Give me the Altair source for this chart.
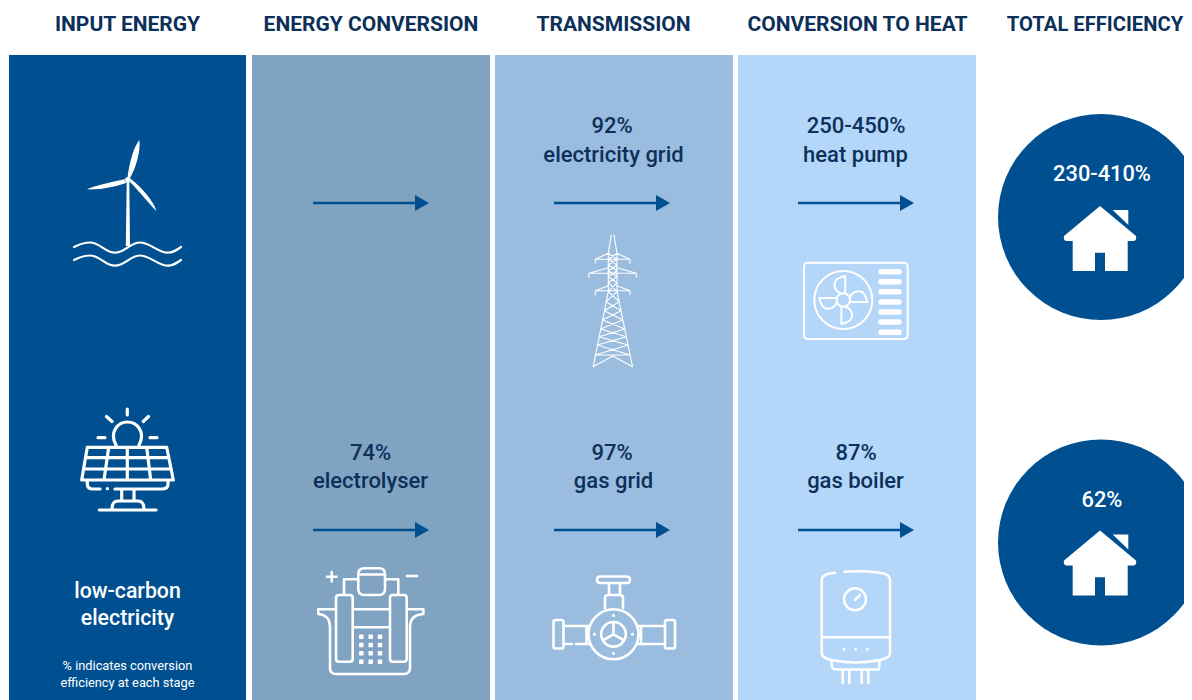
import re
import altair as alt
import pandas as pd

# ---------- chart content ----------
headers = ["INPUT ENERGY", "ENERGY CONVERSION", "TRANSMISSION", "CONVERSION TO HEAT", "TOTAL EFFICIENCY"]
top_labels = ["92%", "electricity grid", "250-450%", "heat pump"]
bottom_labels = ["74%", "electrolyser", "97%", "gas grid", "87%", "gas boiler"]
input_labels = ["low-carbon", "electricity"]
note_labels = ["% indicates conversion", "efficiency at each stage"]
total_labels = ["230-410%", "62%"]

# ---------- layout, in reference pixels ----------
header_x = [127.5, 371, 613.5, 857.5, 1095]
col_x0 = [9, 252, 495, 738]
col_x1 = [246, 490, 733, 976]
col_colors = ["#005091", "#80a3c2", "#9abcdf", "#b3d6f9"]
NAVY = "#005091"
INK = "#0c3059"
ROW_TOP, ROW_BOTTOM = 55, 700

X = alt.Scale(domain=[8, 1184], nice=False, zero=False)
Y = alt.Scale(domain=[700, 8], nice=False, zero=False)
xq = lambda f: alt.X(f, type="quantitative", scale=X, axis=None)
yq = lambda f: alt.Y(f, type="quantitative", scale=Y, axis=None)


def text_layer(labels, xs, ys, size, color, weight=500):
    df = pd.DataFrame({"label": labels, "x": xs, "y": ys})
    return alt.Chart(df).mark_text(
        font="Roboto", fontSize=size, fontWeight=weight, color=color,
        align="center", baseline="alphabetic",
    ).encode(x=xq("x"), y=yq("y"), text="label:N")


# ---------- icon geometry helpers (absolute reference px, shifted to the anchor) ----------
def shift(path, cx, cy):
    toks = re.findall(r"[MLCQZ]|-?\d+\.?\d*", path)
    out, is_x = [], True
    for t in toks:
        if t in "MLCQZ":
            out.append(t)
            is_x = True
        else:
            v = float(t) - (cx if is_x else cy)
            out.append(f"{v:.2f}")
            is_x = not is_x
    return " ".join(out)


def circ(cx, cy, r):
    k = 0.5523 * r
    return (f"M {cx+r} {cy} C {cx+r} {cy+k} {cx+k} {cy+r} {cx} {cy+r} "
            f"C {cx-k} {cy+r} {cx-r} {cy+k} {cx-r} {cy} "
            f"C {cx-r} {cy-k} {cx-k} {cy-r} {cx} {cy-r} "
            f"C {cx+k} {cy-r} {cx+r} {cy-k} {cx+r} {cy} Z ")


def rrect(x0, y0, x1, y1, r):
    return (f"M {x0+r} {y0} L {x1-r} {y0} Q {x1} {y0} {x1} {y0+r} L {x1} {y1-r} "
            f"Q {x1} {y1} {x1-r} {y1} L {x0+r} {y1} Q {x0} {y1} {x0} {y1-r} "
            f"L {x0} {y0+r} Q {x0} {y0} {x0+r} {y0} Z ")


def seg(*pts):
    return "M " + " L ".join(f"{a} {b}" for a, b in pts) + " "


# turbine
turbine_fill = (
    "M 127.5 178 C 129 165 133 148 139.3 140 C 141 150 136 168 130 178 Z "
    "M 125 179 C 112 182 97 185 86.7 189.3 C 100 190 115 187 126 183 Z "
    "M 130 182 C 140 192 150 205 156.5 211 C 153 200 142 188 131 179 Z "
    + circ(127.8, 180, 3)
    + "M 126.7 182 L 129.3 182 L 130 246 L 125.8 246 Z "
)
wave = "M 74 {a} C 80 {b} 85 {c} 90 {c} C 100 {c} 105 {d} 115 {d} C 125 {d} 130 {c} 140 {c} C 150 {c} 158 {d} 168 {d} C 173 {d} 177 {e} 181 {a} "
turbine_line = (wave.format(a=247, b=244, c=242.5, d=252.7, e=250)
                + wave.format(a=260, b=257, c=255.5, d=265.7, e=263))

# solar panel
solar_line = (
    seg((127.3, 409), (127.3, 415)) + seg((106.5, 416.5), (112, 421.5)) + seg((148.5, 416.5), (143.3, 421.5))
    + seg((98, 437.7), (105, 437.7)) + seg((150, 437.7), (157, 437.7))
    + "M 116 445 C 109 432 118 422 127.3 422 C 137 422 146 432 139 445 "
    + seg((87.3, 447.3), (166.7, 447.3), (173.3, 480), (81.7, 480), (87.3, 447.3))
    + seg((85.5, 457.7), (169, 457.7)) + seg((83.5, 469), (171, 469))
    + seg((108.7, 447.3), (104, 480)) + seg((127.3, 447.3), (127.3, 480)) + seg((146.7, 447.3), (150.7, 480))
    + "M 87.3 480 L 87.3 484 Q 87.3 489 93 489 L 100 489 "
    + "M 115 489 L 162 489 Q 168 489 168 484 L 168 480 "
    + seg((121.7, 489), (121.7, 501)) + seg((134, 489), (134, 501))
    + "M 112 509 Q 112 501 118 501 L 138 501 Q 144 501 144 509 "
    + seg((99.3, 510), (156, 510))
    + seg((107.3, 488.7), (107.4, 488.7))
)

# electrolyser
electro_line = (
    seg((331.7, 572), (331.7, 581.5)) + seg((327, 576.7), (336.5, 576.7)) + seg((407, 576), (417, 576))
    + rrect(358.3, 568.3, 385, 595, 6) + seg((358.3, 574.5), (385, 574.5))
    + seg((358.3, 579.3), (344, 579.3), (344, 594)) + seg((385, 579.3), (398.3, 579.3), (398.3, 594))
    + rrect(336, 595, 352.7, 661.7, 3) + rrect(390, 595, 406.7, 661.7, 3)
    + "M 336 609.3 L 318.3 609.3 L 318.3 614 Q 330 615 330 627 L 330 668 Q 330 674 336 674 "
      "L 404 674 Q 410 674 410 668 L 410 627 Q 410 615 423.3 614 L 423.3 609.3 L 406.7 609.3 "
    + seg((352.7, 609.3), (390, 609.3)) + seg((352.7, 627.3), (390, 627.3))
)
electro_fill = "".join(
    f"M {x-2.2} {y-2.2} L {x+2.2} {y-2.2} L {x+2.2} {y+2.2} L {x-2.2} {y+2.2} Z "
    for x in (361.3, 370.7, 380) for y in (636.7, 645, 653.3, 661.7)
)

# valve
valve_line = (
    rrect(597, 576.5, 630, 583, 3.2) + seg((609, 583), (609, 595)) + seg((620, 583), (620, 595))
    + "M 605 608 L 605 598 Q 605 595 608 595 L 620 595 Q 623 595 623 598 L 623 608 "
    + circ(613.5, 634.3, 25) + circ(613.5, 634.3, 12.3)
    + seg((613.5, 634.3), (613.5, 623)) + seg((613.5, 634.3), (603.5, 640)) + seg((613.5, 634.3), (623.5, 640))
    + rrect(553.5, 620, 563.5, 648.5, 2) + rrect(665, 620, 675, 648.5, 2)
    + seg((563.5, 626), (590, 626)) + seg((563.5, 644), (572, 644)) + seg((576, 644), (590, 644))
    + seg((586.5, 626), (586.5, 644))
    + seg((638, 626), (665, 626)) + seg((638, 644), (665, 644)) + seg((641, 626), (641, 644))
)
valve_fill = circ(613.5, 615.5, 1.5) + circ(613.5, 653.5, 1.5) + circ(594.5, 634.3, 1.5) + circ(632.5, 634.3, 1.5)


# pylon
def py(zx, zy):
    return (round(560 + zx / 3, 1), round(220 + zy / 3, 1))


def leg(zy):
    if zy <= 215:
        return 171
    return 171.5 + 46 * (zy - 215) / 225


pylon_path = ""
for s in (-1, 1):
    pylon_path += seg(py(158 + s * 4, 45), py(158 + s * 13, 100), py(158 + s * 13, 215), py(158.5 + s * 59, 440))
    for top, reach, low in ((100, 52, 118), (143, 71, 160), (197, 52, 212)):
        pylon_path += seg(py(158 + s * 13, top), py(158 + s * reach, low), py(158 + s * reach, low + 12))
        pylon_path += seg(py(158, low), py(158 + s * reach, low))
levels = [100, 118, 135, 152, 170, 188, 215, 245, 272, 300, 327, 350, 375, 405]
for a, b in zip(levels[:-1], levels[1:]):
    pylon_path += seg(py(316 - leg(a), a), py(leg(b), b))
    pylon_path += seg(py(leg(a), a), py(316 - leg(b), b))
pylon_path += seg(py(316 - leg(405), 405), py(leg(405), 405))
pylon_path += seg(py(100, 440), py(158, 408), py(218, 440))


# heat pump
def rot(pts, cx, cy, k):
    res = []
    for x, y in pts:
        dx, dy = x - cx, y - cy
        for _ in range(k):
            dx, dy = -dy, dx
        res.append((round(cx + dx, 2), round(cy + dy, 2)))
    return res


blade = [(845.2, 276), (845.2, 293.3), (838, 295), (833, 288), (835, 282), (836, 279), (841, 277), (845.2, 276)]
pump_line = rrect(804, 262.7, 907.7, 339, 4) + circ(843.3, 300, 29) + circ(843.3, 300, 6.7)
for k in range(4):
    p = rot(blade, 843.3, 300, k)
    pump_line += (f"M {p[0][0]} {p[0][1]} L {p[1][0]} {p[1][1]} "
                  f"C {p[2][0]} {p[2][1]} {p[3][0]} {p[3][1]} {p[4][0]} {p[4][1]} "
                  f"C {p[5][0]} {p[5][1]} {p[6][0]} {p[6][1]} {p[7][0]} {p[7][1]} ")
pump_fill = "".join(rrect(878.3, y - 2.7, 901.7, y + 2.7, 2.6)
                    for y in (271.7, 281.7, 291.7, 302, 312, 322, 332.3))

# boiler
boiler_line = (
    "M 835 572.7 Q 821.7 574 821.7 580 L 821.7 653.3 Q 821.7 658.3 831.7 660 Q 855 665 880 660 "
    "Q 890 658.3 890 653.3 L 890 580 Q 890 574 880 572.7 Q 862 570.7 844.3 571.7 "
    + seg((821.7, 637.3), (890, 637.3))
    + circ(855, 599.3, 11) + seg((855, 600), (860, 595))
    + "M 831.7 662 L 831.7 666 Q 832 669.5 838 669.5 L 879 669.5 "
    + seg((879.3, 662), (879.3, 667))
    + seg((842.7, 670), (842.7, 683)) + seg((849.3, 670), (849.3, 683))
    + seg((861.7, 670), (861.7, 683)) + seg((868.3, 670), (868.3, 683))
)
boiler_fill = circ(844, 649.3, 1.4) + circ(855.7, 649.3, 1.4) + circ(867.3, 649.3, 1.4)

# house
house_fill = (
    "M 1100 206 L 1136 236 Q 1137 240 1134 241 L 1127.7 241 L 1127.7 271 L 1105 271 L 1105 252.7 "
    "L 1095 252.7 L 1095 271 L 1072.7 271 L 1072.7 241 L 1066 241 Q 1063 240 1064 236 Z "
    "M 1112.7 210 L 1128.3 210 L 1128.3 225 Z"
)

icons = [
    ("turbine_f", 127, 200, turbine_fill, True, 0),
    ("turbine_l", 127, 200, turbine_line, False, 2.2),
    ("solar", 127, 460, solar_line, False, 3.2),
    ("electro_l", 370, 620, electro_line, False, 2.6),
    ("electro_f", 370, 620, electro_fill, True, 0),
    ("valve_l", 614, 630, valve_line, False, 2.6),
    ("valve_f", 614, 630, valve_fill, True, 0),
    ("pylon", 613, 300, pylon_path, False, 1.1),
    ("pump_l", 856, 300, pump_line, False, 2),
    ("pump_f", 856, 300, pump_fill, True, 0),
    ("boiler_l", 856, 625, boiler_line, False, 2.5),
    ("boiler_f", 856, 625, boiler_fill, True, 0),
    ("house", 1100, 240, house_fill, True, 0),
]


def icon_layer(name, ax, ay, path, filled, sw, dy=0):
    d = pd.DataFrame({"icon": [name], "x": [ax], "y": [ay + dy]})
    kw = dict(shape=shift(path, ax, ay), size=4, opacity=1, filled=filled)
    if filled:
        kw.update(fill="white", strokeWidth=0)
    else:
        kw.update(stroke="white", strokeWidth=sw, strokeCap="round", strokeJoin="round")
    return alt.Chart(d).mark_point(**kw).encode(x=xq("x"), y=yq("y"))


# ---------- layers ----------
cols = pd.DataFrame({"x0": col_x0, "x1": col_x1, "c": col_colors,
                     "y0": [ROW_TOP] * 4, "y1": [ROW_BOTTOM] * 4})
bands = alt.Chart(cols).mark_rect().encode(
    x=xq("x0"), x2="x1:Q", y=yq("y0"), y2="y1:Q",
    fill=alt.Color("c:N", scale=None),
)

circles = alt.Chart(pd.DataFrame({"x": [1101, 1101], "y": [217, 542.5]})).mark_point(
    shape="circle", size=42436, filled=True, fill=NAVY, opacity=1, strokeWidth=0
).encode(x=xq("x"), y=yq("y"))

arrows = pd.DataFrame({
    "x0": [313, 554, 798, 313, 554, 798],
    "x1": [418, 659, 903, 418, 659, 903],
    "h": [422, 663, 907, 422, 663, 907],
    "y": [203, 203, 203, 530, 530, 530],
})
arrow_shafts = alt.Chart(arrows).mark_rule(color=NAVY, strokeWidth=2.4).encode(
    x=xq("x0"), x2="x1:Q", y=yq("y"))
arrow_heads = alt.Chart(arrows).mark_point(
    shape="M -1 -1.15 L 1 0 L -1 1.15 Z", size=196, filled=True, fill=NAVY, opacity=1, strokeWidth=0
).encode(x=xq("h"), y=yq("y"))

layers = [bands, circles, arrow_shafts, arrow_heads]
for ic in icons:
    layers.append(icon_layer(*ic))
layers.append(icon_layer("house2", 1100, 240, house_fill, True, 0, dy=324.5))

layers += [
    text_layer(headers[:4], header_x[:4], [31] * 4, 21, INK, 700),
    text_layer(headers[4:], header_x[4:], [31], 20.2, INK, 700),
    text_layer(top_labels, [612, 613.5, 856, 855.5], [133, 162, 133, 162], 22, INK, 500),
    text_layer(bottom_labels, [370.5, 370.5, 612, 613.5, 856, 855.5], [460, 488, 460, 488, 460, 488], 22, INK, 500),
    text_layer(input_labels, [127.5, 127.5], [598, 625], 21.3, "white", 500),
    text_layer(note_labels, [127.5, 127.5], [670, 687], 12.8, "white", 400),
    text_layer(total_labels, [1102, 1102], [181, 507], 21.8, "white", 500),
]

chart = alt.layer(*layers).properties(
    width=1176, height=692, padding=0,
    autosize=alt.AutoSizeParams(type="none"),
    background="white",
).configure_view(stroke=None)

chart.save("out.html", embed_options={"renderer": "svg", "actions": False})
